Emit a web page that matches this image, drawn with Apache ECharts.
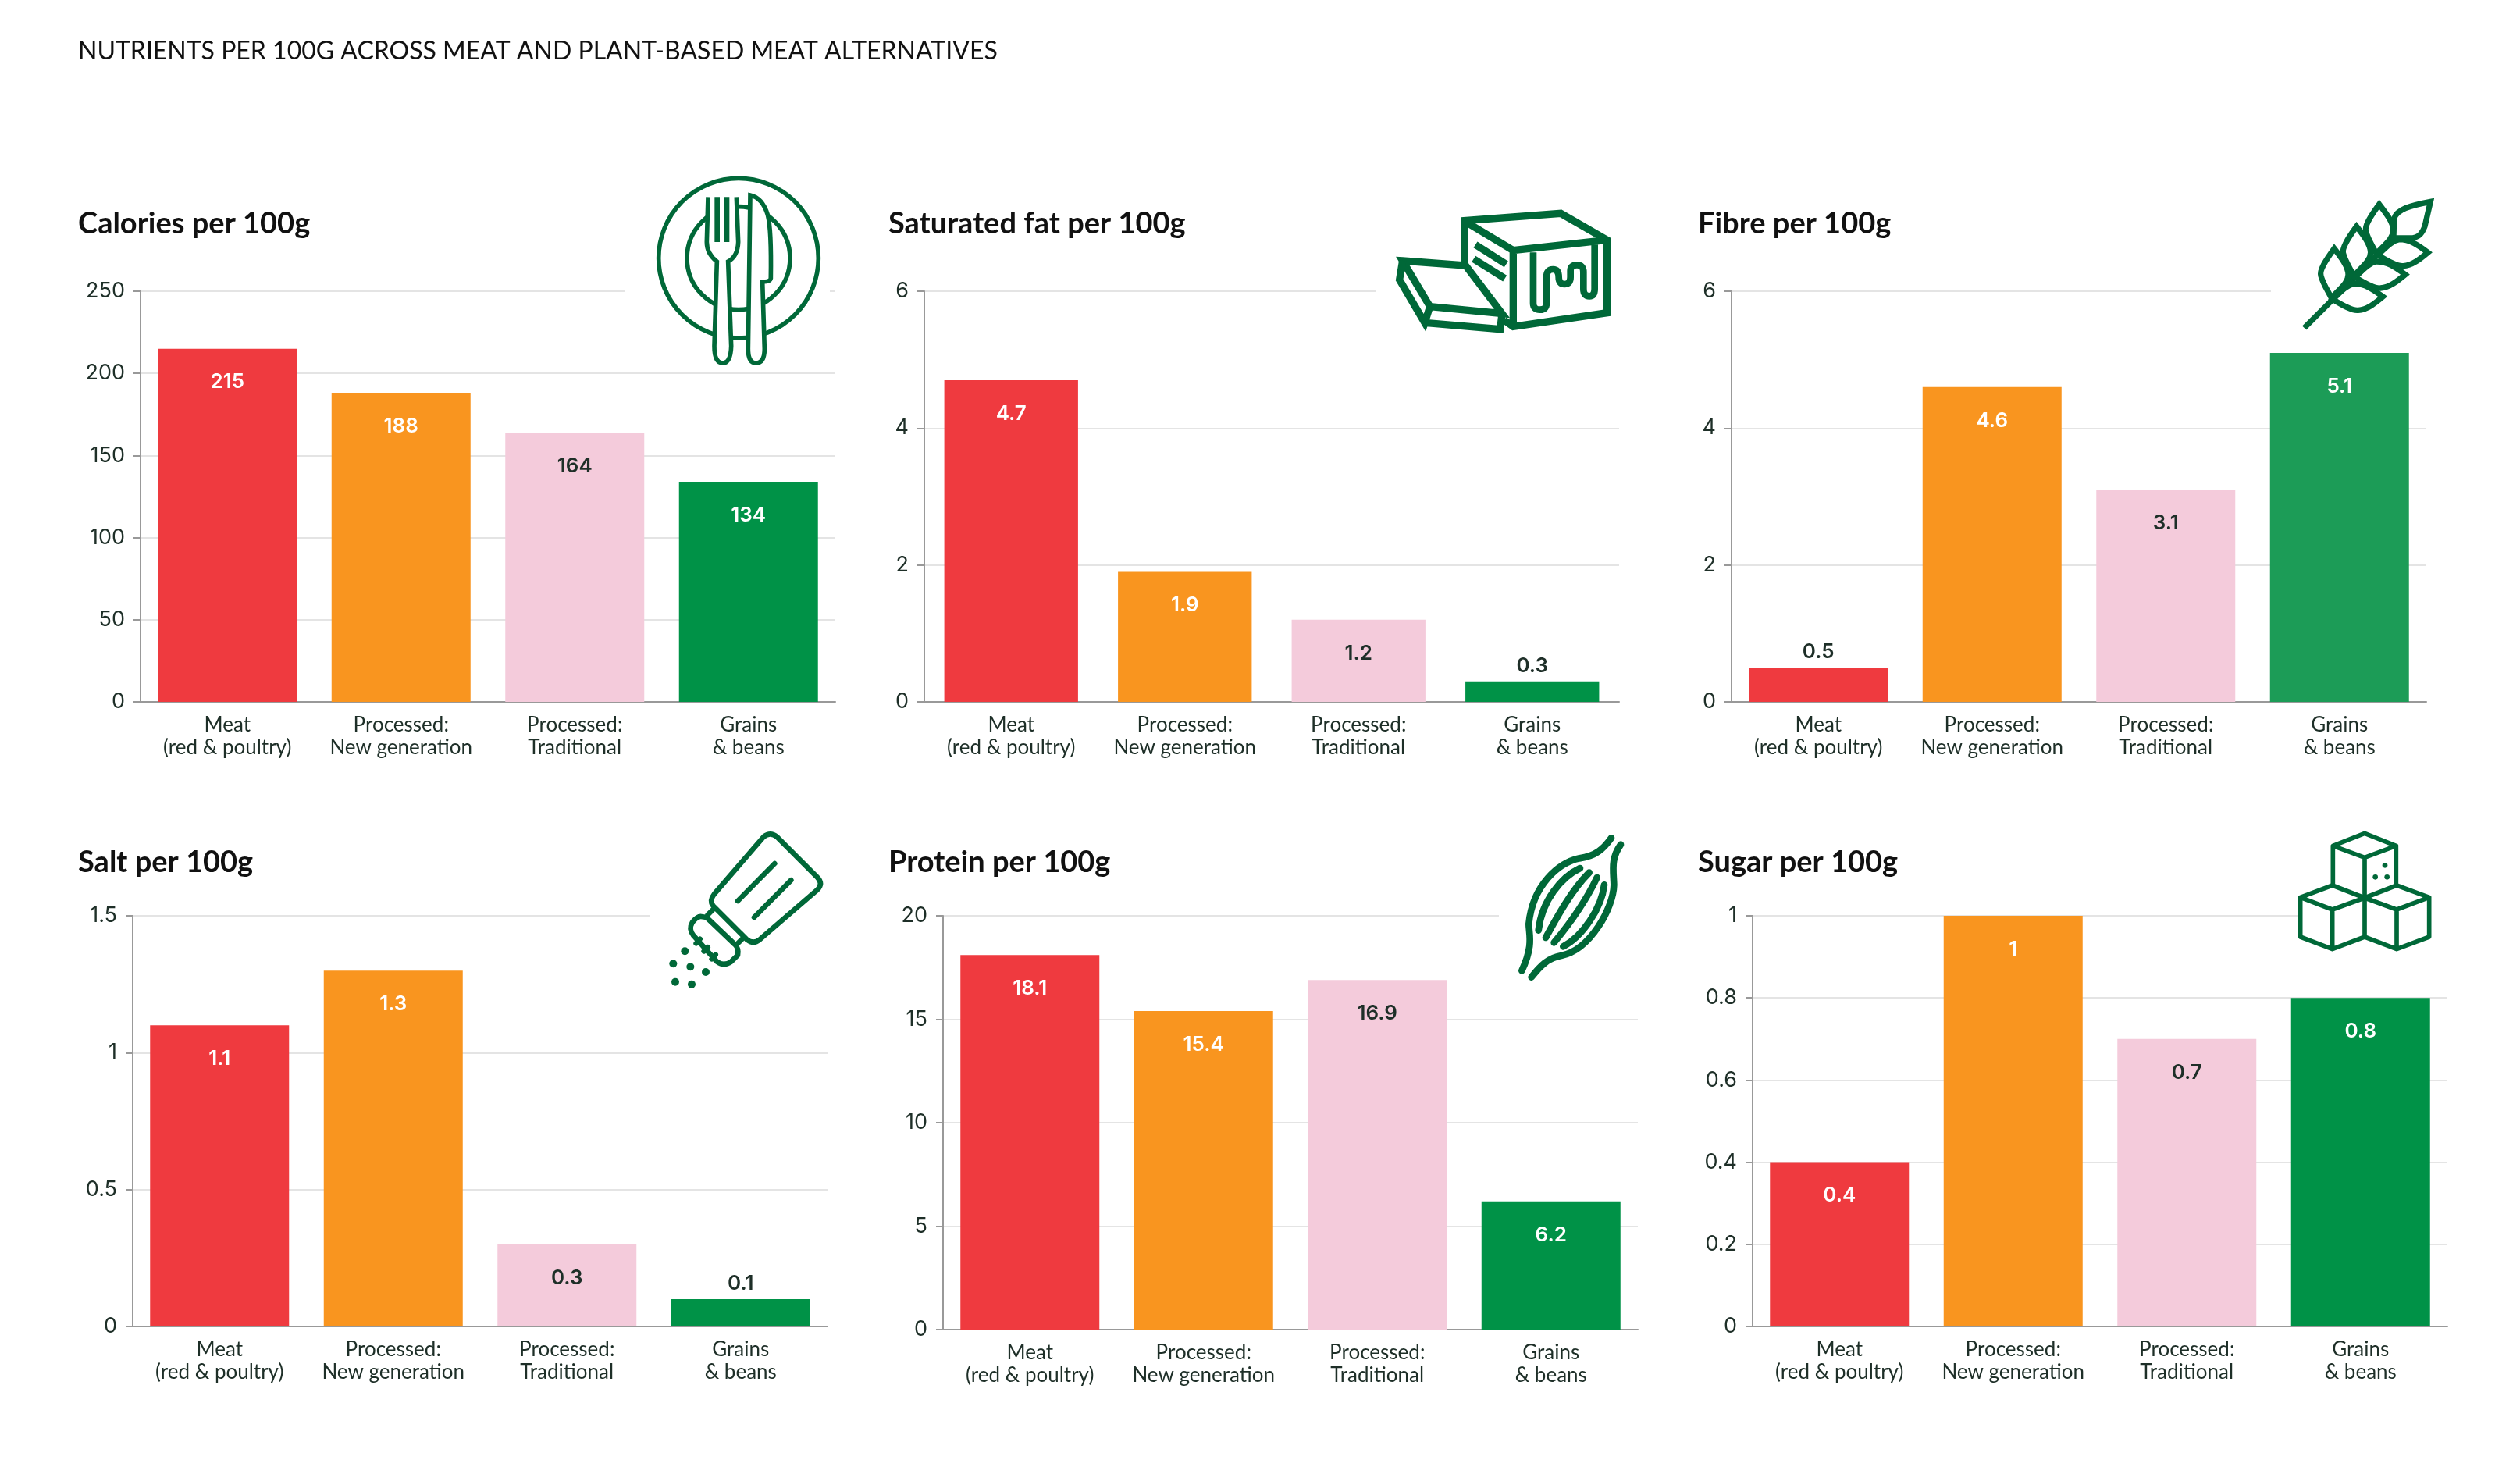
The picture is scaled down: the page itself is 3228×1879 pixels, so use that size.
<!DOCTYPE html>
<html>

<head>
	<meta charset="utf-8">
	<title>Nutrients per 100g</title>
	<script src="https://cdnjs.cloudflare.com/ajax/libs/echarts/6.0.0/echarts.min.js"></script>
	<style>
		html, body { margin: 0; padding: 0; background: #fff; }
	</style>
</head>

<body>
	<div id="main" style="width: 3228px;height:1879px;"></div>
	<script type="text/javascript">
  var mainTitle = 'NUTRIENTS PER 100G ACROSS MEAT AND PLANT-BASED MEAT ALTERNATIVES';
  var categories = ['Meat\n(red & poultry)', 'Processed:\nNew generation', 'Processed:\nTraditional', 'Grains\n& beans'];

  var chartTitles = ['Calories per 100g', 'Saturated fat per 100g', 'Fibre per 100g', 'Salt per 100g', 'Protein per 100g', 'Sugar per 100g'];

  var calories = [215, 188, 164, 134];
  var saturatedFat = [4.7, 1.9, 1.2, 0.3];
  var fibre = [0.5, 4.6, 3.1, 5.1];
  var salt = [1.1, 1.3, 0.3, 0.1];
  var protein = [18.1, 15.4, 16.9, 6.2];
  var sugar = [0.4, 1, 0.7, 0.8];
  var allValues = [calories, saturatedFat, fibre, salt, protein, sugar];

  var axisMax = [250, 6, 6, 1.5, 20, 1];
  var axisStep = [50, 2, 2, 0.5, 5, 0.2];

  var RED = '#ef3a3f', ORANGE = '#f9951f', PINK = '#f4cbdb', GREEN = '#009247', INK = '#1e2f28', ICON = '#006838';
  var barColors = [RED, ORANGE, PINK, GREEN];
  var labelColors = ['#fff', '#fff', INK, '#fff'];

  // plot boxes in page pixels, one per panel
  var boxes = [
    { left: 180, top: 373, width: 890, bottom: 899, gap: '20%' },
    { left: 1184, top: 373, width: 890, bottom: 899, gap: '23%' },
    { left: 2218, top: 373, width: 890, bottom: 899, gap: '20%' },
    { left: 170, top: 1173, width: 890, bottom: 1699, gap: '20%' },
    { left: 1208, top: 1173, width: 890, bottom: 1703, gap: '20%' },
    { left: 2245, top: 1173, width: 890, bottom: 1699, gap: '20%' }
  ];
  var titleX = [95, 1133, 2170, 95, 1133, 2170];
  var titleY = [263, 263, 263, 1081, 1081, 1081];

  function svgUri(w, h, body) {
    var s = '<svg xmlns="http://www.w3.org/2000/svg" width="' + w + '" height="' + h + '" viewBox="0 0 ' + w + ' ' + h + '">' + body + '</svg>';
    return 'data:image/svg+xml;charset=utf-8,' + encodeURIComponent(s);
  }

  function leaves() {
    var up = 'M443 95C410 140 385 180 392 200C400 230 420 260 432 285C470 245 497 225 497 195C497 165 470 130 443 95Z';
    var side = 'M630 280C590 250 560 230 520 230C490 235 465 265 437 290C470 310 510 335 535 332C570 330 600 305 630 280Z';
    var out = '';
    [[0, 0], [-87, 85], [-173, 170]].forEach(function (o) {
      out += '<g transform="translate(' + o[0] + ' ' + o[1] + ')"><path d="' + up + '"/><path d="' + side + '"/></g>';
    });
    return out;
  }

  // icons are traced at 3x, so each has a 3x viewBox
  var icons = [
    {
      x: 780, y: 200, w: 320, h: 300, cover: [801, 360, 262, 30],
      body: '<g fill="none" stroke="' + ICON + '" stroke-width="17"><circle cx="498" cy="392" r="307"/><circle cx="498" cy="392" r="198"/>' +
        '<path fill="#fff" d="M381 157L376 330Q376 375 415 405L405 730Q405 795 437 795Q468 795 470 730L458 405Q495 385 497 330L490 157"/>' +
        '<path d="M416 157V330M453 157V330" stroke-width="20"/>' +
        '<path fill="#fff" d="M543 150Q590 160 610 225Q625 280 622 470Q620 483 590 483L598 740Q598 795 565 795Q535 795 535 740Z"/></g>'
    },
    {
      x: 1700, y: 200, w: 450, h: 260, cover: [1762, 360, 314, 30],
      body: '<g fill="none" stroke="' + ICON + '" stroke-width="28"><path d="M528 420V248L898 220L1076 322V602L715 655L680 630"/>' +
        '<path d="M528 250L715 362V655M715 362L1076 322M570 340L688 415M563 395L683 470"/>' +
        '<path stroke-width="26" d="M792 370V565Q792 590 818 590Q843 590 843 565V465Q843 435 868 435Q890 435 890 465Q890 492 912 492Q935 492 935 465V440Q935 418 960 418Q985 418 985 445V510Q985 538 1008 538Q1028 538 1028 510V340"/>' +
        '<path fill="#fff" d="M290 402L532 420L672 605L395 578Z"/><path d="M290 402L278 475L375 640L395 578M375 640L665 665L672 605"/></g>'
    },
    {
      x: 2900, y: 230, w: 300, h: 220, cover: [2909, 360, 205, 30],
      body: '<g fill="none" stroke="' + ICON + '" stroke-width="22"><path d="M155 570L505 220"/>' + leaves() +
        '<path d="M640 85C560 100 510 115 500 150L498 225H560C600 225 610 200 618 180Z"/></g>'
    },
    {
      x: 830, y: 1050, w: 260, h: 250, cover: [832, 1160, 240, 30],
      body: '<g fill="none" stroke="' + ICON + '" stroke-width="20" stroke-linecap="round" stroke-linejoin="round">' +
        '<path d="M445 65Q470 45 495 65L650 220Q675 245 650 270L430 460Q405 480 380 460L250 330Q235 310 255 285Z"/>' +
        '<path d="M345 312L487 168M408 375L550 232M250 345L230 365M360 460L340 480"/>' +
        '<path d="M205 372Q190 370 170 395Q155 420 175 445L265 545Q290 565 320 545L345 520Q350 495 335 480L225 375Z"/>' +
        '<path d="M200 458L185 475M230 490L215 505M260 518L245 535"/></g>' +
        '<g fill="' + ICON + '"><circle cx="142" cy="505" r="15"/><circle cx="97" cy="553" r="15"/><circle cx="163" cy="565" r="15"/><circle cx="222" cy="585" r="15"/><circle cx="105" cy="623" r="15"/><circle cx="168" cy="632" r="15"/></g>'
    },
    {
      x: 1920, y: 1050, w: 200, h: 240, cover: [1920, 1160, 185, 30],
      body: '<g fill="none" stroke="' + ICON + '" stroke-width="26" stroke-linecap="round">' +
        '<path d="M432 70C400 115 370 140 310 148C230 165 130 250 115 400C115 440 135 480 88 580"/>' +
        '<path d="M468 95C430 150 440 190 442 250C440 340 350 500 240 522C190 530 160 560 125 605"/>' +
        '<path d="M312 186C240 220 165 310 152 425M347 203C280 270 225 370 180 453M377 222C340 300 280 390 212 472M405 250C395 340 320 450 247 487"/></g>'
    },
    {
      x: 2920, y: 1050, w: 240, h: 200, cover: [2945, 1160, 195, 30],
      body: '<g fill="none" stroke="' + ICON + '" stroke-width="17" stroke-linejoin="round">' +
        '<path d="M327 52L448 100L327 145L205 100ZM205 100V255M448 100V255M327 145V450"/>' +
        '<path d="M80 298L203 252L327 300L203 345ZM80 298V450L203 497L327 450M203 345V497"/>' +
        '<path d="M327 300L450 252L575 298L450 345ZM575 298V450L450 497L327 450M450 345V497"/></g>' +
        '<g fill="' + ICON + '"><circle cx="405" cy="175" r="10"/><circle cx="368" cy="220" r="10"/><circle cx="413" cy="220" r="10"/></g>'
    }
  ];

  var titles = [{
    text: mainTitle, left: 95, top: 45,
    textStyle: { fontFamily: 'Lato', fontSize: 32, fontWeight: 400, color: '#111' }
  }];
  var grids = [], xAxes = [], yAxes = [], series = [], graphics = [];

  allValues.forEach(function (values, p) {
    var box = boxes[p];
    var max = axisMax[p];
    titles.push({
      text: chartTitles[p], left: titleX[p], top: titleY[p],
      textStyle: { fontFamily: 'Lato', fontSize: 38, fontWeight: 700, color: '#111' }
    });
    grids.push({ left: box.left, top: box.top, width: box.width, height: box.bottom - box.top });
    xAxes.push({
      type: 'category', gridIndex: p, data: categories,
      axisLine: { lineStyle: { color: '#999', width: 2 } },
      axisTick: { alignWithLabel: true, length: 9, lineStyle: { color: '#999', width: 2 } },
      axisLabel: { interval: 0, margin: 15, fontFamily: 'Lato', fontSize: 26, lineHeight: 29, color: INK }
    });
    yAxes.push({
      type: 'value', gridIndex: p, min: 0, max: max, interval: axisStep[p],
      axisLine: { show: true, lineStyle: { color: '#999', width: 2 } },
      axisTick: { show: true, length: 9, lineStyle: { color: '#999', width: 2 } },
      axisLabel: { margin: 20, fontFamily: 'Inter', fontSize: 27, color: INK },
      splitLine: { lineStyle: { color: '#e4e4e4', width: 2 } }
    });
    series.push({
      type: 'bar', xAxisIndex: p, yAxisIndex: p, barCategoryGap: box.gap,
      data: values.map(function (v, i) {
        var outside = v / max < 0.1;
        return {
          value: v,
          itemStyle: { color: (p === 2 && i === 3) ? '#1c9c57' : barColors[i] },
          label: {
            show: true,
            position: outside ? 'top' : 'insideTop',
            distance: outside ? 7 : 30,
            fontFamily: 'Inter', fontSize: 26, fontWeight: 600,
            color: outside ? INK : labelColors[i]
          }
        };
      })
    });
    var ic = icons[p];
    graphics.push({
      type: 'rect', z: 100,
      shape: { x: ic.cover[0], y: ic.cover[1], width: ic.cover[2], height: ic.cover[3] },
      style: { fill: '#fff' }
    });
    graphics.push({
      type: 'image', z: 101,
      style: { image: svgUri(ic.w * 3, ic.h * 3, ic.body), x: ic.x, y: ic.y, width: ic.w, height: ic.h }
    });
  });

  var myChart = echarts.init(document.getElementById('main'));
  myChart.setOption({
    animation: false,
    backgroundColor: '#fff',
    title: titles,
    grid: grids,
    xAxis: xAxes,
    yAxis: yAxes,
    series: series,
    graphic: graphics
  });
	</script>
</body>

</html>
